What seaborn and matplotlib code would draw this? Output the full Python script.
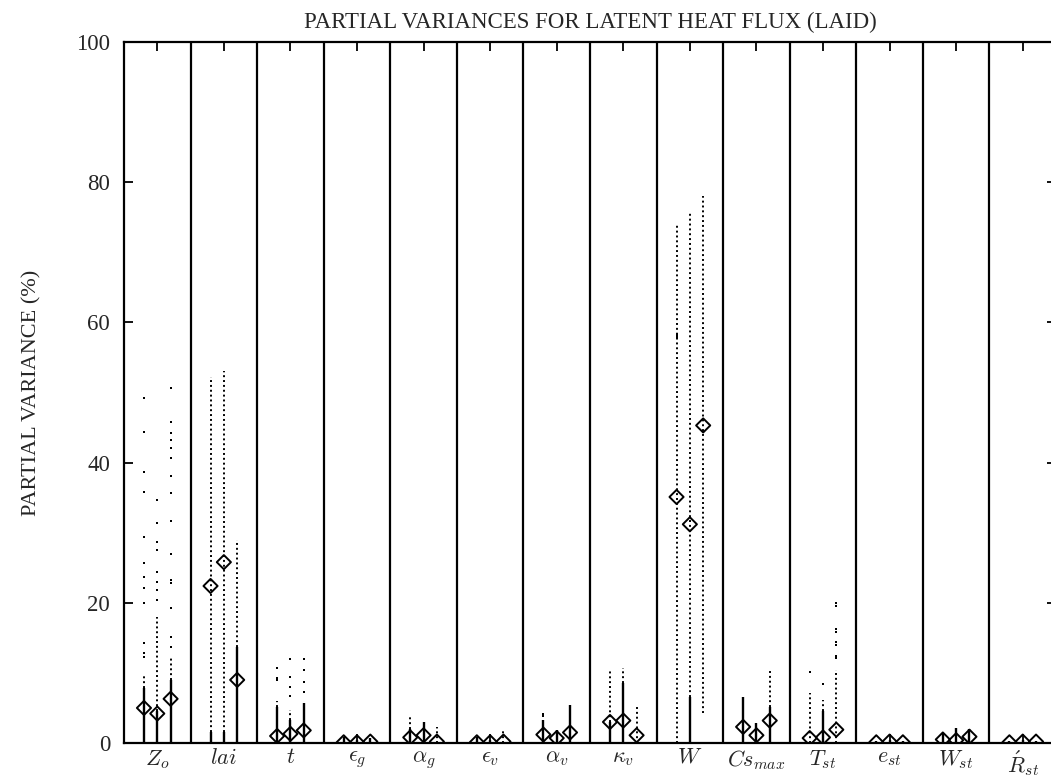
import numpy as np
import pandas as pd
import matplotlib
matplotlib.use("Agg")
import matplotlib.pyplot as plt
import seaborn as sns

# parameter names along the bottom
params = [r"$Z_o$", r"$lai$", r"$t$", r"$\epsilon_g$", r"$\alpha_g$", r"$\epsilon_v$",
          r"$\alpha_v$", r"$\kappa_v$", r"$W$", r"$Cs_{max}$", r"$T_{st}$",
          r"$e_{st}$", r"$W_{st}$", r"$\acute{R}_{st}$"]

# mean partial variance (diamonds), three runs per parameter
mean_1 = [5.0, 22.4, 1.0, 0.1, 0.8, 0.1, 1.2, 3.0, 35.1, 2.3, 0.7, 0.1, 0.5, 0.1]
mean_2 = [4.2, 25.8, 1.3, 0.1, 1.1, 0.1, 0.7, 3.2, 31.2, 1.1, 0.8, 0.2, 0.4, 0.2]
mean_3 = [6.3, 9.0, 1.8, 0.2, 0.2, 0.2, 1.5, 1.1, 45.3, 3.2, 1.9, 0.1, 0.9, 0.2]

# top of the solid (very dense) part of each column of points
solid_1 = [7.8, 1.5, 5.1, 0.8, 2.0, 0.8, 3.3, 3.0, 0.0, 6.6, 0.0, 0.3, 1.4, 0.3]
solid_2 = [4.5, 1.5, 3.3, 0.4, 3.0, 0.4, 1.9, 8.6, 6.6, 2.9, 4.5, 0.4, 2.1, 0.4]
solid_3 = [9.0, 13.7, 5.7, 0.7, 0.0, 0.0, 5.4, 0.0, 0.0, 5.1, 0.0, 0.3, 2.0, 0.3]

# top of the dotted (dense) part above the solid part
dense_1 = [9.7, 52.2, 6.0, 0.8, 4.0, 0.8, 3.3, 10.6, 74.2, 6.6, 7.1, 0.3, 1.4, 0.3]
dense_2 = [18.0, 53.0, 4.7, 0.4, 3.0, 0.4, 1.9, 10.7, 75.7, 2.9, 6.1, 0.4, 2.1, 0.4]
dense_3 = [12.3, 29.0, 5.7, 0.7, 2.3, 2.0, 5.4, 5.4, 78.0, 10.6, 10.4, 0.3, 2.0, 0.3]
dense_lo_3_w = 4.3  # W third run starts above zero

# single scattered points above the dense parts
zo_dots_1 = [12.3, 12.8, 14.3, 20.0, 22.1, 23.7, 25.7, 29.4, 35.8, 38.7, 44.4, 49.2]
zo_dots_2 = [20.4, 21.8, 23.0, 24.4, 27.5, 28.7, 31.4, 34.7]
zo_dots_3 = [13.7, 15.1, 19.3, 22.8, 23.3, 27.0, 31.7, 35.7, 38.1, 40.7, 42.1,
             43.2, 44.2, 45.8, 50.6]
t_dots_1 = [9.0, 9.3, 10.7]
t_dots_2 = [6.7, 8.0, 9.4, 12.0]
t_dots_3 = [7.3, 8.7, 10.4, 12.0]
av_dots_1 = [3.8, 4.1]
w_dots_1 = [57.8, 58.1, 58.4]
tst_dots_1 = [10.1]
tst_dots_2 = [8.4]
tst_dots_3 = [12.1, 12.4, 14.0, 14.4, 15.8, 16.2, 19.5, 20.0]

sns.set_style("ticks")
plt.rcParams["font.family"] = ["Liberation Serif", "DejaVu Serif"]
plt.rcParams["mathtext.fontset"] = "cm"

offsets = [-0.2, 0.0, 0.2]
centers = np.arange(len(params)) + 0.5

fig = plt.figure(figsize=(10.51, 7.83), dpi=100)
ax = fig.add_axes([124 / 1051, 40 / 783, 932 / 1051, 701 / 783])

# solid and dotted columns
for k, (sol, den) in enumerate(zip([solid_1, solid_2, solid_3],
                                    [dense_1, dense_2, dense_3])):
    xs = centers + offsets[k]
    ax.vlines(xs, 0, sol, colors="black", lw=1.7)
    lo = list(sol)
    if k == 2:
        lo[8] = dense_lo_3_w
    ax.vlines(xs, lo, den, colors="black", lw=1.4, linestyles=(0, (1, 1.5)))

# scattered points
rows = []
for g, k, vals in [(0, 0, zo_dots_1), (0, 1, zo_dots_2), (0, 2, zo_dots_3),
                   (2, 0, t_dots_1), (2, 1, t_dots_2), (2, 2, t_dots_3),
                   (6, 0, av_dots_1), (8, 0, w_dots_1),
                   (10, 0, tst_dots_1), (10, 1, tst_dots_2), (10, 2, tst_dots_3)]:
    for v in vals:
        rows.append({"x": centers[g] + offsets[k], "v": v})
dots = pd.DataFrame(rows)
sns.scatterplot(data=dots, x="x", y="v", marker="s", s=4, color="black",
                linewidth=0, ax=ax, legend=False)

# means
mrows = []
for k, m in enumerate([mean_1, mean_2, mean_3]):
    for g, v in enumerate(m):
        mrows.append({"x": centers[g] + offsets[k], "v": v})
means = pd.DataFrame(mrows)
sns.scatterplot(data=means, x="x", y="v", marker="D", s=52, facecolor="none",
                edgecolor="black", linewidth=1.4, ax=ax, legend=False, zorder=5)

# separators between parameters
ax.vlines(np.arange(1, len(params)), 0, 100, colors="black", lw=1.6)

ax.set_xlim(0, len(params))
ax.set_ylim(0, 100)
ax.set_xticks(centers)
ax.set_xticklabels(params, fontsize=16)
ax.set_yticks([0, 20, 40, 60, 80, 100])
ax.tick_params(axis="both", direction="in", top=True, right=True,
               length=6.5, width=1.3, color="black")
ax.tick_params(axis="x", pad=4)
ax.tick_params(axis="y", labelsize=16.5, pad=10)
for s in ax.spines.values():
    s.set_linewidth(1.6)
    s.set_color("black")
ax.set_xlabel("")
ax.set_ylabel("PARTIAL VARIANCE (%)", fontsize=16, labelpad=25)
ax.set_title("PARTIAL VARIANCES FOR LATENT HEAT FLUX (LAID)", fontsize=16.5, pad=10)

fig.savefig("out.png", dpi=100)
